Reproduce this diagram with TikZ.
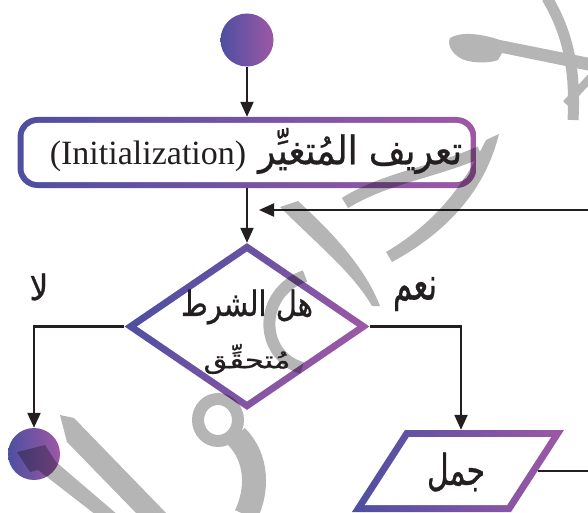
\documentclass[tikz,border=0pt]{standalone}
\usepackage{fontspec}
\setmainfont{Liberation Serif}
\newfontfamily\arabicfont[Script=Arabic, FakeBold=0.7]{DejaVu Sans}
\TeXXeTstate=1
\usetikzlibrary{arrows.meta,shapes.geometric,calc}

\definecolor{fcblue}{RGB}{78,79,161}
\definecolor{fcpurple}{RGB}{157,88,165}
\definecolor{ink}{RGB}{35,31,32}

% Arabic text scaled to a given width and total height
\newcommand{\artext}[3]{\resizebox*{#1}{#2}{\arabicfont #3}}

\tikzset{
  flow/.style={draw=ink, line width=2.2pt, -{Triangle[length=15pt,width=13pt]}},
  plainline/.style={draw=ink, line width=2.2pt},
  grad/.style={left color=fcblue, right color=fcpurple},
  blank/.style={fill=white, draw=none, inner sep=0pt},
  wmline/.style={draw=black, line cap=butt},
  wmfill/.style={fill=black, draw=none},
  lbl/.style={text=ink, inner sep=0pt},
}

\begin{document}
\begin{tikzpicture}[x=1pt,y=-1pt]
\useasboundingbox (0,0) rectangle (588,513);

% ---- start terminal
\node[circle, minimum size=53pt, inner sep=0pt, grad] (start) at (247,40) {};

% ---- initialisation box
\node[rectangle, rounded corners=20pt, minimum width=459pt, minimum height=71pt,
      inner sep=0pt, grad] (init) at (247,152.5) {};
\node[rectangle, rounded corners=14pt, minimum width=447pt, minimum height=59pt,
      blank] (initin) at (init.center) {};

% ---- decision
\node[diamond, minimum width=245pt, minimum height=167pt, inner sep=0pt, grad,
      shading angle=60] (dec) at (247,326.5) {};
\node[diamond, minimum width=220pt, minimum height=150pt, blank] (decin) at (dec.center) {};

% ---- stop terminal
\node[circle, minimum size=52pt, inner sep=0pt, grad] (stop) at (34,454) {};

% ---- statement box (parallelogram drawn around a rectangular anchor node)
\node[rectangle, minimum width=159pt, minimum height=82pt, inner sep=0pt] (io) at (458,471) {};
\shade[grad] ($(io.center)+(-53,-41)$) -- ($(io.center)+(106,-41)$)
   -- ($(io.center)+(53,41)$) -- ($(io.center)+(-106,41)$) -- cycle;
\fill[white] ($(io.center)+(-49.2,-34)$) -- ($(io.center)+(93.1,-34)$)
   -- ($(io.center)+(49.1,34)$) -- ($(io.center)+(-93.1,34)$) -- cycle;

% ---- free ends of the loop
\coordinate (join) at (247,210);
\coordinate (loopin) at (590,210);
\coordinate (ioout) at (590,471);

% ---- connectors
\draw[flow] (start.south) -- (init.north);
\draw[flow] (init.south) -- (dec.north);
\draw[flow] (loopin) -- ([xshift=12pt]join);
\draw[flow] (dec.west) -| (stop.north);
\draw[flow] (dec.east) -| ([xshift=3pt]io.north);
\draw[plainline] (io.east) -- (io.east -| ioout);

% ---- background calligraphy
\begin{scope}[transparency group, opacity=0.29]
  \draw[wmline, line width=11pt] (547,-2) .. controls (566,30) and (576,65) .. (573,120);
  \fill[wmfill] (450,38) .. controls (462,31) and (482,34) .. (500,40) -- (590,58)
     -- (590,71) -- (502,53) -- (498,60) .. controls (488,64) and (468,63) .. (460,58)
     .. controls (452,53) and (447,45) .. (450,38) -- cycle;
  \draw[wmline, line width=8pt] (592,76) -- (566,104);
  \fill[wmfill] (499,134) .. controls (488,178) and (460,225) .. (392,262)
     -- (386,252) .. controls (440,220) and (466,180) .. (486,140) -- cycle;
  \draw[wmline, line width=12pt] (480,152) .. controls (435,172) and (385,178) .. (345,203);
  \fill[wmfill] (280,207) -- (298,201) .. controls (335,235) and (365,268) .. (380,306)
     -- (372,306) .. controls (352,272) and (318,245) .. cycle;
  \draw[wmline, line width=12pt] (305,276) .. controls (258,292) and (258,355) .. (302,368);
  \fill[wmfill] (60,415) -- (74,418) -- (168,515) -- (138,515) -- (67,442) -- cycle;
  \fill[wmfill] (17,452) -- (45,445) -- (56,462) -- (118,515) -- (96,515) -- (38,470)
     -- (30,472) -- cycle;
  \draw[wmline, line width=12pt] (218,420) ellipse [x radius=20pt, y radius=21pt];
  \draw[wmline, line width=24pt] (236,436) .. controls (258,458) and (258,490) .. (246,515);
\end{scope}

% ---- texts
\node[lbl] (inittext) at (256,151)
  {\fontsize{34}{40}\selectfont (Initialization)\hspace{12pt}\artext{204pt}{46pt}{\beginR تعريف المُتغيِّر\endR}};
\node[lbl] (decline1) at (247,307) {\artext{132pt}{35pt}{\beginR هل الشرط\endR}};
\node[lbl] (decline2) at (247,359) {\artext{87pt}{30pt}{\beginR مُتحقِّق\endR}};
\node[lbl] (nolbl) at (39,287) {\artext{19pt}{27pt}{\beginR لا\endR}};
\node[lbl] (yeslbl) at (415,294) {\artext{44pt}{34pt}{\beginR نعم\endR}};
\node[lbl] (iotext) at (456,472) {\artext{58pt}{39pt}{\beginR جمل\endR}};
\end{tikzpicture}
\end{document}
